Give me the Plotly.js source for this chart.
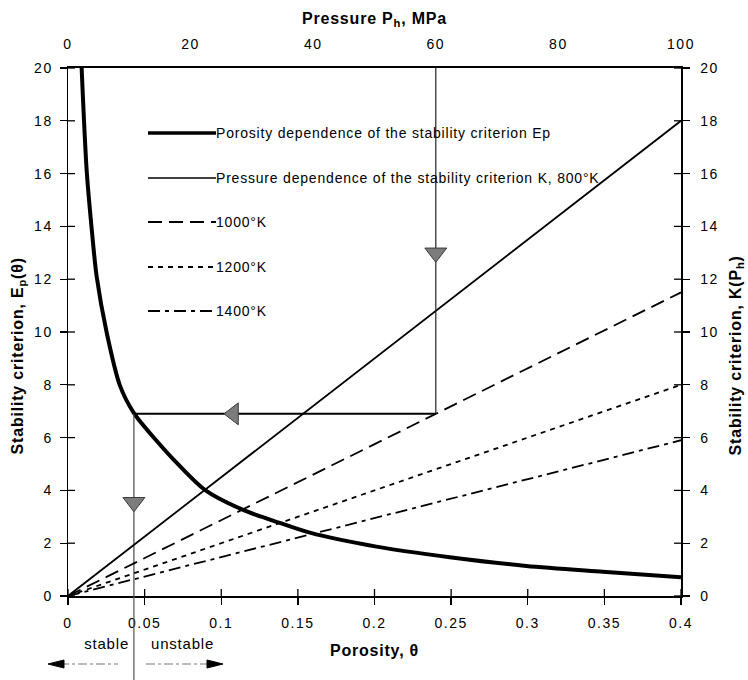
<!DOCTYPE html>
<html>
<head>
<meta charset="utf-8">
<script src="https://cdn.plot.ly/plotly-3.0.1.min.js"></script>
<style>
  html, body { margin: 0; padding: 0; background: #ffffff; }
  #chart { width: 748px; height: 680px; }
  #chart .xtick text, #chart .x2tick text, #chart .ytick text, #chart .y2tick text { letter-spacing: 1.5px; }
  #chart .annotation-text, #chart .g-xtitle text, #chart .g-x2title text { letter-spacing: 0.8px; }
</style>
</head>
<body>
<div id="chart"></div>
<script>
// Porosity dependence of the stability criterion Ep(θ)
const porosity = [0.0089, 0.0122, 0.0158, 0.0187, 0.0252, 0.0339, 0.043, 0.0578, 0.07, 0.0893, 0.1143, 0.1382, 0.1578, 0.2013, 0.2491, 0.2991, 0.349, 0.4];
const epValues = [20.0, 16.1, 13.7, 12.1, 9.99, 7.97, 6.93, 5.88, 5.1, 4.02, 3.26, 2.77, 2.40, 1.87, 1.47, 1.14, 0.92, 0.71];

// Pressure dependence of the stability criterion K(Ph) at four temperatures
const pressure = [0, 100];
const k800 = [0, 18.0];
const k1000 = [0, 11.5];
const k1200 = [0, 8.0];
const k1400 = [0, 5.9];

// Reading path: 60 MPa -> 1000°K line -> Ep curve -> critical porosity
const readPressure = 60;
const readK = 6.9;
const criticalPorosity = 0.043;
const arrowPressure = [60, 27];
const arrowK = [13.0, 6.9];
const arrowPorosity = [0.043];
const arrowEp = [3.55];

// Axis ranges and ticks
const porosityRange = [0, 0.4];
const pressureRange = [0, 100];
const criterionRange = [0, 20];
const porosityTicks = [0, 0.05, 0.1, 0.15, 0.2, 0.25, 0.3, 0.35, 0.4];
const porosityTickText = ['0', '0.05', '0.1', '0.15', '0.2', '0.25', '0.3', '0.35', '0.4'];
const pressureTicks = [0, 20, 40, 60, 80, 100];
const criterionTicks = [0, 2, 4, 6, 8, 10, 12, 14, 16, 18, 20];

const legendLabels = [
  'Porosity dependence of the stability criterion Ep',
  'Pressure dependence of the stability criterion K, 800°K',
  '1000°K',
  '1200°K',
  '1400°K'
];

// porosity expressed on the pressure scale (both axes share the same width)
const criticalPressure = criticalPorosity * (pressureRange[1] - pressureRange[0]) / (porosityRange[1] - porosityRange[0]);

const FONT = 'Liberation Sans, Arial, Helvetica, sans-serif';
const BLACK = '#000000';
const DASH_1000 = '14px,7px';
const DASH_1200 = '5px,5px';
const DASH_1400 = '12px,5px,4px,5px';

const traces = [
  { x: porosity, y: epValues, xaxis: 'x', yaxis: 'y', mode: 'lines',
    line: { color: BLACK, width: 4, shape: 'spline', smoothing: 0.8 }, hoverinfo: 'skip' },
  { x: pressure, y: k800, xaxis: 'x2', yaxis: 'y2', mode: 'lines',
    line: { color: BLACK, width: 1.8 }, hoverinfo: 'skip' },
  { x: pressure, y: k1000, xaxis: 'x2', yaxis: 'y2', mode: 'lines',
    line: { color: BLACK, width: 1.8, dash: DASH_1000 }, hoverinfo: 'skip' },
  { x: pressure, y: k1200, xaxis: 'x2', yaxis: 'y2', mode: 'lines',
    line: { color: BLACK, width: 1.8, dash: DASH_1200 }, hoverinfo: 'skip' },
  { x: pressure, y: k1400, xaxis: 'x2', yaxis: 'y2', mode: 'lines',
    line: { color: BLACK, width: 1.8, dash: DASH_1400 }, hoverinfo: 'skip' },
  // reading path
  { x: [readPressure, readPressure], y: [criterionRange[1], readK], xaxis: 'x2', yaxis: 'y2', mode: 'lines',
    line: { color: '#222', width: 1.2 }, hoverinfo: 'skip' },
  { x: [readPressure, criticalPressure], y: [readK, readK], xaxis: 'x2', yaxis: 'y2', mode: 'lines',
    line: { color: BLACK, width: 2 }, hoverinfo: 'skip' },
  { x: [criticalPorosity, criticalPorosity], y: [readK, 0], xaxis: 'x', yaxis: 'y', mode: 'lines',
    line: { color: '#555', width: 1.3 }, hoverinfo: 'skip' },
  // direction arrows on the path
  { x: arrowPressure, y: arrowK, xaxis: 'x2', yaxis: 'y2', mode: 'markers',
    marker: { symbol: ['triangle-down', 'triangle-left'], size: 19, color: '#7c7c7c',
              line: { color: '#3a3a3a', width: 1 } }, hoverinfo: 'skip' },
  { x: arrowPorosity, y: arrowEp, xaxis: 'x', yaxis: 'y', mode: 'markers',
    marker: { symbol: 'triangle-down', size: 19, color: '#7c7c7c',
              line: { color: '#3a3a3a', width: 1 } }, hoverinfo: 'skip' }
];

// plot area in pixels: left 68, right 681, top 68, bottom 596
const L = 68, R = 681, T = 68, B = 596;
const px = v => (v - L) / (R - L);
const py = v => (B - v) / (B - T);
const INNER_TICK = 7;

const shapes = [];
const annotations = [];

// inner halves of the crossing tick marks
porosityTicks.forEach(t => {
  shapes.push({ type: 'line', xref: 'x', yref: 'paper', x0: t, x1: t, y0: 0, y1: INNER_TICK / (B - T),
    line: { color: BLACK, width: 1.3 } });
});
criterionTicks.forEach(c => {
  shapes.push({ type: 'line', xref: 'paper', yref: 'y', x0: 0, x1: INNER_TICK / (R - L), y0: c, y1: c,
    line: { color: BLACK, width: 1.3 } });
  shapes.push({ type: 'line', xref: 'paper', yref: 'y', x0: 1 - INNER_TICK / (R - L), x1: 1, y0: c, y1: c,
    line: { color: BLACK, width: 1.3 } });
});

// legend drawn inside the plot
const legendRows = [133, 178, 222, 267, 311];
const legendStyles = [
  { width: 3.5 }, { width: 1.6 }, { width: 1.8, dash: DASH_1000 },
  { width: 1.8, dash: DASH_1200 }, { width: 1.8, dash: DASH_1400 }
];
legendRows.forEach((row, i) => {
  shapes.push({ type: 'line', xref: 'paper', yref: 'paper', x0: px(148), x1: px(216), y0: py(row), y1: py(row),
    line: Object.assign({ color: BLACK }, legendStyles[i]) });
  annotations.push({ xref: 'paper', yref: 'paper', x: px(214), y: py(row), xanchor: 'left', yanchor: 'middle',
    align: 'left', text: legendLabels[i], showarrow: false, font: { family: FONT, size: 14, color: BLACK } });
});

// critical porosity line continued below the axis
shapes.push({ type: 'line', xref: 'x', yref: 'paper', x0: criticalPorosity, x1: criticalPorosity,
  y0: 0, y1: py(680), line: { color: '#555', width: 1.2 } });

// stable / unstable arrows
shapes.push({ type: 'line', xref: 'paper', yref: 'paper', x0: px(60), x1: px(118), y0: py(664), y1: py(664),
  line: { color: '#777', width: 1.2, dash: 'dashdot' } });
shapes.push({ type: 'path', xref: 'paper', yref: 'paper', fillcolor: BLACK, line: { color: BLACK, width: 1 },
  path: `M ${px(48)} ${py(664)} L ${px(64)} ${py(660)} L ${px(64)} ${py(668)} Z` });
shapes.push({ type: 'line', xref: 'paper', yref: 'paper', x0: px(146), x1: px(208), y0: py(664), y1: py(664),
  line: { color: '#777', width: 1.2, dash: 'dashdot' } });
shapes.push({ type: 'path', xref: 'paper', yref: 'paper', fillcolor: BLACK, line: { color: BLACK, width: 1 },
  path: `M ${px(223)} ${py(664)} L ${px(207)} ${py(660)} L ${px(207)} ${py(668)} Z` });

annotations.push({ xref: 'paper', yref: 'paper', x: px(131), y: py(643), xanchor: 'right', yanchor: 'middle',
  align: 'right', text: 'stable', showarrow: false, font: { family: FONT, size: 15, color: BLACK } });
annotations.push({ xref: 'paper', yref: 'paper', x: px(149), y: py(643), xanchor: 'left', yanchor: 'middle',
  align: 'left', text: 'unstable', showarrow: false, font: { family: FONT, size: 15, color: BLACK } });

// vertical axis titles
annotations.push({ xref: 'paper', yref: 'paper', x: px(18), y: py(356), xanchor: 'center', yanchor: 'middle',
  textangle: -90, text: 'Stability criterion, E<sub>p</sub>(θ)', showarrow: false,
  font: { family: FONT, size: 16, color: BLACK, weight: 'bold' } });
annotations.push({ xref: 'paper', yref: 'paper', x: px(736), y: py(356), xanchor: 'center', yanchor: 'middle',
  textangle: -90, text: 'Stability criterion, K(P<sub>h</sub>)', showarrow: false,
  font: { family: FONT, size: 16, color: BLACK, weight: 'bold' } });

const tickFont = { family: FONT, size: 14, color: BLACK };
const baseAxis = { showgrid: false, zeroline: false, fixedrange: true, tickfont: tickFont };

const layout = {
  width: 748, height: 680,
  margin: { l: L, r: 748 - R, t: T, b: 680 - B, pad: 0 },
  paper_bgcolor: '#ffffff', plot_bgcolor: '#ffffff',
  showlegend: false,
  font: { family: FONT, color: BLACK },
  xaxis: Object.assign({}, baseAxis, {
    range: porosityRange, tickmode: 'array', tickvals: porosityTicks, ticktext: porosityTickText,
    ticks: 'outside', ticklen: 7, tickwidth: 1.3, tickcolor: BLACK, ticklabelstandoff: 7,
    showline: true, linewidth: 1.5, linecolor: BLACK, anchor: 'y', side: 'bottom',
    title: { text: 'Porosity, θ', standoff: 14, font: { family: FONT, size: 16, color: BLACK, weight: 'bold' } }
  }),
  xaxis2: Object.assign({}, baseAxis, {
    range: pressureRange, tickmode: 'array', tickvals: pressureTicks,
    ticks: 'outside', ticklen: 6, tickcolor: 'rgba(0,0,0,0)', ticklabelstandoff: 5,
    showline: true, linewidth: 2.2, linecolor: BLACK, anchor: 'y', side: 'top', overlaying: 'x',
    title: { text: 'Pressure P<sub>h</sub>, MPa', standoff: 8, font: { family: FONT, size: 16, color: BLACK, weight: 'bold' } }
  }),
  yaxis: Object.assign({}, baseAxis, {
    range: criterionRange, tickmode: 'array', tickvals: criterionTicks,
    ticks: 'outside', ticklen: 7, tickwidth: 1.3, tickcolor: BLACK, ticklabelstandoff: 4,
    showline: true, linewidth: 1.5, linecolor: BLACK, anchor: 'x', side: 'left'
  }),
  yaxis2: Object.assign({}, baseAxis, {
    range: criterionRange, tickmode: 'array', tickvals: criterionTicks,
    ticks: 'outside', ticklen: 7, tickwidth: 1.3, tickcolor: BLACK, ticklabelstandoff: 8,
    showline: true, linewidth: 1.5, linecolor: BLACK, anchor: 'x', side: 'right', overlaying: 'y'
  }),
  shapes: shapes,
  annotations: annotations
};

Plotly.newPlot('chart', traces, layout, { staticPlot: true, displayModeBar: false });
</script>
</body>
</html>
